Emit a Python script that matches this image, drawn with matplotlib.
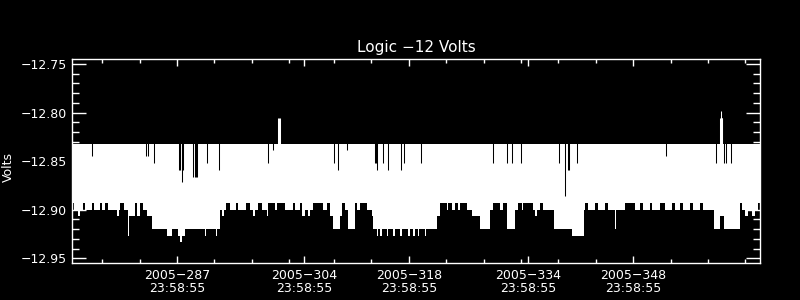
import matplotlib
matplotlib.use("Agg")
import matplotlib.pyplot as plt

# x axis is day of year 2005, y axis is volts
title = "Logic \u221212 Volts"
y_label = "Volts"
x_major = [287, 304, 318, 334, 348]
x_major_labels = ["2005\u2212%d\n23:58:55" % d for d in x_major]
x_minor = [277, 282, 292, 297, 302, 308, 313, 323, 328, 333, 338, 343, 353, 358, 363]
y_major = [-12.95, -12.90, -12.85, -12.80, -12.75]
y_major_labels = ["\u221212.95", "\u221212.90", "\u221212.85", "\u221212.80", "\u221212.75"]
y_minor = [-12.94, -12.93, -12.92, -12.91, -12.89, -12.88, -12.87, -12.86,
           -12.84, -12.83, -12.82, -12.81, -12.79, -12.78, -12.77, -12.76]

# upper edge of the dense white band
band_top = -12.832

# quantised readings seen along the lower edge
A, B, C, D, E, F = -12.893, -12.900, -12.9065, -12.920, -12.927, -12.933

# lower edge of the band, piecewise constant: start day and lowest reading
low_day = [273.0, 273.29, 273.76, 274.03, 274.43, 274.70, 275.64, 275.90, 276.71, 276.97,
           277.37, 277.78, 278.98, 279.25, 279.38, 279.92, 280.45, 280.63, 281.39, 281.66,
           282.06, 282.46, 282.99, 283.66, 285.67, 286.34, 287.14, 287.41, 287.68, 288.08,
           290.75, 290.89, 292.23, 292.36, 292.76, 293.03, 293.30, 293.56, 294.10, 294.90,
           295.17, 296.24, 296.77, 297.17, 297.44, 297.84, 298.34, 299.05, 299.22, 300.12,
           300.34, 301.46, 302.57, 302.79, 303.46, 303.69, 304.13, 304.57, 304.80, 305.24,
           306.58, 307.03, 307.47, 307.92, 308.81, 309.04, 309.48, 309.92, 310.82, 311.05,
           311.49, 312.38, 313.05, 313.27, 313.72, 313.94, 314.16, 314.39, 315.06, 315.27,
           315.94, 316.17, 316.84, 317.06, 317.95, 318.18, 318.62, 318.85, 319.25, 319.38,
           320.18, 320.32, 321.75, 322.19, 323.09, 323.30, 323.76, 324.20, 324.64, 324.87,
           325.76, 326.43, 327.54, 328.88, 329.32, 330.22, 330.62, 331.11, 332.22, 332.62,
           333.16, 333.29, 334.63, 334.90, 335.17, 335.57, 336.00, 337.35, 339.81, 341.36,
           341.59, 341.99, 342.93, 343.33, 344.27, 344.67, 345.61, 345.70, 346.94, 348.28,
           348.95, 349.35, 350.29, 350.56, 351.63, 352.30, 353.24, 353.64, 354.31, 354.71,
           355.64, 356.05, 356.98, 357.38, 358.75, 359.64, 360.09, 362.32, 362.59, 362.99,
           363.39, 363.93, 364.33, 364.73, 365.0]
low_val = [A, B, C, B, A, B, A, B, A, B,
           A, B, C, B, A, B, E, C, A, C,
           A, B, C, D, E, D, E, F, E, D,
           E, D, E, D, B, C, B, A, B, A,
           B, A, B, C, B, A, B, C, A, B,
           A, B, A, B, A, C, B, C, B, A,
           B, A, C, D, C, A, B, D, A, B,
           A, B, C, D, E, D, E, D, E, D,
           E, D, E, D, E, D, E, D, E, D,
           E, D, C, A, B, A, B, A, B, A,
           B, C, D, B, A, B, A, D, B, A,
           B, A, B, C, B, A, B, D, E, B,
           A, B, A, B, A, B, D, B, A, B,
           A, B, A, B, A, B, A, B, A, B,
           A, B, A, B, D, C, D, A, B, C,
           B, C, B, A, A]

# columns where the maximum stayed below the band top
notch_day = [275.68, 282.82, 283.17, 283.97, 287.30, 287.45, 287.60, 287.68, 287.75,
             289.19, 289.35, 289.50, 289.64, 291.06, 292.63, 299.10, 299.89, 308.01,
             308.55, 309.71, 313.45, 313.60, 313.80, 314.52, 315.27, 317.01, 317.41,
             319.61, 329.19, 331.11, 331.86, 332.98, 338.02, 338.83, 339.28, 339.41,
             340.43, 352.33, 359.02, 360.18, 360.35, 361.03]
notch_val = [-12.845, -12.845, -12.845, -12.852, -12.859, -12.859, -12.859, -12.8715, -12.859,
             -12.866, -12.866, -12.866, -12.866, -12.852, -12.859, -12.852, -12.838, -12.852,
             -12.859, -12.838, -12.852, -12.852, -12.859, -12.852, -12.859, -12.859, -12.852,
             -12.852, -12.852, -12.852, -12.852, -12.852, -12.852, -12.886, -12.859, -12.859,
             -12.852, -12.845, -12.852, -12.852, -12.852, -12.852]

# isolated high readings
spike_day = [300.56, 300.68, 300.79, 359.65, 359.74, 359.83, 359.92]
spike_val = [-12.806, -12.806, -12.806, -12.806, -12.798, -12.806, -12.806]

fig = plt.figure(figsize=(8, 3), dpi=100, facecolor="black")
ax = fig.add_axes([0.0904, 0.1233, 0.86, 0.681], facecolor="black")

ax.fill_between(low_day, low_val, band_top, step="post", color="white", lw=0)
ax.vlines(notch_day, notch_val, band_top + 0.001, color="black", lw=0.75)
ax.vlines(spike_day, band_top, spike_val, color="white", lw=0.75)

ax.set_xlim(273, 365)
ax.set_ylim(-12.9548, -12.7445)

ax.set_xticks(x_major)
ax.set_xticklabels(x_major_labels, linespacing=1.05)
ax.set_xticks(x_minor, minor=True)
ax.set_yticks(y_major)
ax.set_yticklabels(y_major_labels)
ax.set_yticks(y_minor, minor=True)

for s in ax.spines.values():
    s.set_color("white")
    s.set_linewidth(1.0)

ax.tick_params(which="both", direction="in", colors="white", top=True, right=True,
               labelsize=9, width=1.0)
ax.tick_params(axis="y", which="major", length=10, pad=4)
ax.tick_params(axis="y", which="minor", length=5)
ax.tick_params(axis="x", which="major", length=5, pad=4)
ax.tick_params(axis="x", which="minor", length=2.6)

ax.set_ylabel(y_label, color="white", fontsize=9)
ax.yaxis.set_label_coords(-0.084, 0.47)
fig.text(0.52, 1 - 47 / 300, title, color="white", fontsize=11, ha="center", va="center")

fig.savefig("out.png", dpi=100, facecolor="black")
